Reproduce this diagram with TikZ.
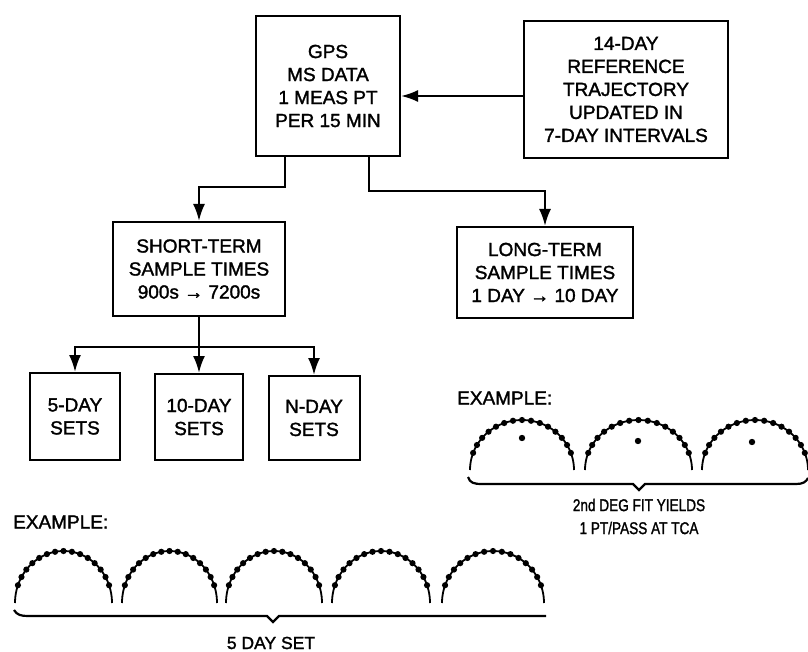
\documentclass[tikz,border=0pt]{standalone}
\usepackage{fontspec}
\setmainfont{Liberation Sans}[UprightFeatures={FakeBold=1.6}]
\usepackage{graphicx}
\usetikzlibrary{arrows.meta}
\newcommand\dottedarc[4]{%
  \draw[arcline] plot[domain=180:0, samples=50] ({#1+#3*cos(\x)},{#2-#4*sin(\x)});
  \foreach \a in {20,30,...,160} \fill ({#1+#3*cos(\a)},{#2-#4*sin(\a)}) circle[radius=3.1pt];
}
\begin{document}
\begin{tikzpicture}[x=1pt,y=-1pt,
  box/.style={draw, line width=2pt, inner sep=0pt, align=center, font=\fontsize{19}{23}\selectfont},
  conn/.style={line width=2.2pt},
  arr/.style={conn, -{Latex[length=17pt,width=12pt]}},
  lbl/.style={inner sep=0pt, font=\fontsize{19}{23}\selectfont},
  arcline/.style={line width=1.8pt},
  bracel/.style={line width=2.2pt}
]
\useasboundingbox (0,0) rectangle (808,652);

% boxes
\node[box, minimum width=144pt, minimum height=140pt] (gps) at (328,86) {GPS\\MS DATA\\1 MEAS PT\\PER 15 MIN};
\node[box, minimum width=204pt, minimum height=137pt] (ref) at (626,89.5) {14-DAY\\REFERENCE\\TRAJECTORY\\UPDATED IN\\7-DAY INTERVALS};
\node[box, minimum width=172pt, minimum height=94pt] (st) at (199,269) {SHORT-TERM\\SAMPLE TIMES\\900s → 7200s};
\node[box, minimum width=176pt, minimum height=91pt] (lt) at (545,272.5) {LONG-TERM\\SAMPLE TIMES\\1 DAY → 10 DAY};
\node[box, minimum width=90pt, minimum height=87pt] (b5) at (75,416.5) {5-DAY\\SETS};
\node[box, minimum width=88pt, minimum height=86pt] (b10) at (199,417) {10-DAY\\SETS};
\node[box, minimum width=91pt, minimum height=84pt] (bN) at (314,418) {N-DAY\\SETS};

% connectors
\coordinate (yref) at (0,96);
\draw[arr] (ref.west |- yref) -- (gps.east |- yref);
\coordinate (legL) at (285,0);
\coordinate (legR) at (369,0);
\draw[arr] (gps.south -| legL) -- ++(0,30) -| (st.north);
\draw[arr] (gps.south -| legR) -- ++(0,34) -| (lt.north);
\draw[conn] (st.south) -- ++(0,30) coordinate (j);
\draw[arr] (j) -| (b5.north);
\draw[arr] (j) -- (b10.north);
\draw[arr] (j) -| (bN.north);

% upper example
\node[lbl, anchor=west] (ex1) at (457,398) {EXAMPLE:};
\dottedarc{522}{470}{52}{50}
\dottedarc{638.5}{470}{53.5}{50}
\dottedarc{755}{470}{53}{50}
\fill (522,438) circle[radius=3.2pt];
\fill (638,441) circle[radius=3.2pt];
\fill (752,442) circle[radius=3.2pt];
\draw[bracel] (468,477) .. controls (470,483) and (474,484) .. (482,484) -- (633,484) -- (639,490) -- (645,484) -- (796,484) .. controls (803,484) and (806,482) .. (808,478);
\node[inner sep=0pt, font=\fontsize{17}{20}\selectfont] (fit1) at (639,505) {\scalebox{0.8}[1]{2nd DEG FIT YIELDS}};
\node[inner sep=0pt, font=\fontsize{17}{20}\selectfont] (fit2) at (639,528) {\scalebox{0.8}[1]{1 PT/PASS AT TCA}};

% lower example
\node[lbl, anchor=west] (ex2) at (13,522) {EXAMPLE:};
\dottedarc{63.5}{603}{48.5}{52}
\dottedarc{169.5}{603}{47.5}{52}
\dottedarc{274}{603}{48}{52}
\dottedarc{381}{603}{49}{52}
\dottedarc{493}{603}{51}{52}
\draw[bracel] (14,610) .. controls (17,615) and (21,616) .. (28,616) -- (267,616) -- (273,622) -- (279,616) -- (546,616);
\node[inner sep=0pt, font=\fontsize{17.5}{21}\selectfont] (set5) at (271,643) {5 DAY SET};
\end{tikzpicture}
\end{document}
